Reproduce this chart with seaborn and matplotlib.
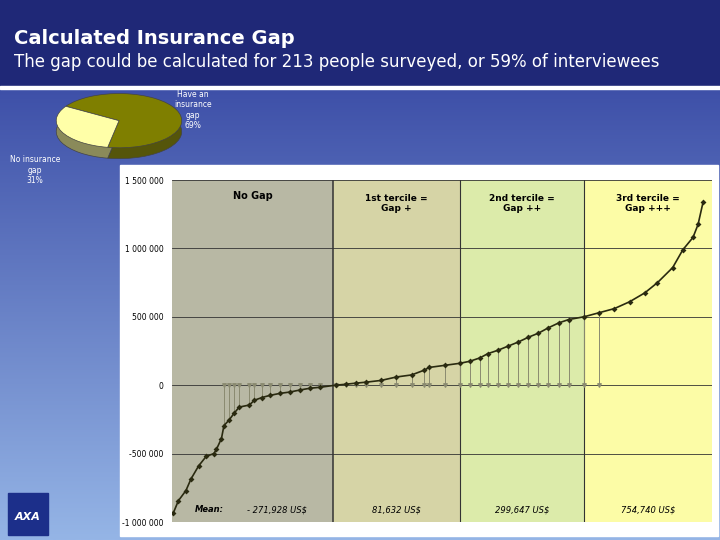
import numpy as np
import matplotlib
matplotlib.use("Agg")
import matplotlib.pyplot as plt
import seaborn as sns
from matplotlib.patches import Rectangle

# sorted calculated gap per person (rank 1..213)
rank = [1, 3, 6, 8, 11, 14, 17, 18, 20, 21, 23, 25, 27, 31, 33, 36, 39, 43, 47, 51,
        55, 59, 65, 69, 73, 77, 83, 89, 95, 100, 102, 108, 114, 118, 122, 125, 129, 133,
        137, 141, 145, 149, 153, 157, 163, 169, 175, 181, 187, 192, 198, 202, 206, 208, 210]
gap = [-935e3, -845e3, -770e3, -685e3, -590e3, -520e3, -500e3, -470e3, -390e3, -295e3,
       -255e3, -205e3, -160e3, -145e3, -110e3, -90e3, -75e3, -60e3, -50e3, -35e3,
       -22e3, -15e3, 0, 7e3, 15e3, 22e3, 35e3, 60e3, 75e3, 110e3, 130e3, 145e3, 160e3,
       175e3, 200e3, 230e3, 255e3, 285e3, 315e3, 350e3, 380e3, 420e3, 455e3, 480e3,
       500e3, 530e3, 560e3, 610e3, 675e3, 750e3, 860e3, 990e3, 1080e3, 1175e3, 1340e3]

group_edges = [0.5, 64.2, 114, 163, 213.5]
group_names = ["No Gap", "1st tercile =\nGap +", "2nd tercile =\nGap ++", "3rd tercile =\nGap +++"]
group_colors = ["#b8b8a4", "#d6d4a6", "#dcebaa", "#fcfca6"]
group_means = ["- 271,928 US$", "81,632 US$", "299,647 US$", "754,740 US$"]

pie_labels = ["Have an\ninsurance\ngap\n69%", "No insurance\ngap\n31%"]
pie_values = [69, 31]

yticks = [-1000000, -500000, 0, 500000, 1000000, 1500000]

W, H = 720, 540
fig = plt.figure(figsize=(7.2, 5.4), dpi=100)

def fx(px): return px / W
def fy(py): return 1 - py / H

# slide background gradient
bg = fig.add_axes([0, 0, 1, 1], zorder=-10)
grad = np.linspace(0, 1, 256).reshape(-1, 1)
cmap = matplotlib.colors.LinearSegmentedColormap.from_list("bg", ["#2d3c9c", "#95b5e6"])
bg.imshow(grad, aspect="auto", cmap=cmap, extent=[0, 1, 0, 1], origin="upper")
bg.axis("off")
fig.patches.append(Rectangle((0, fy(85)), 1, 85 / H, transform=fig.transFigure,
                             color="#1f2877", zorder=-5))
fig.patches.append(Rectangle((0, fy(89)), 1, 3 / H, transform=fig.transFigure,
                             color="white", zorder=-5))
fig.text(fx(14), fy(38), "Calculated Insurance Gap", color="white", fontsize=14,
         fontweight="bold", va="center")
fig.text(fx(14), fy(62), "The gap could be calculated for 213 people surveyed, or 59% of interviewees",
         color="white", fontsize=12, va="center")

# white chart panel
fig.patches.append(Rectangle((fx(120), fy(536)), 598 / W, 371 / H, transform=fig.transFigure,
                             color="white", zorder=-4))

# 3D-ish pie
for shift, cols, z in [(-0.4, ["#55550a", "#8a8a5a"], 1), (0, ["#7f7f00", "#ffffa8"], 2)]:
    pax = fig.add_axes([fx(55), fy(160), 128 / W, 67 / H], zorder=z)
    pax.pie(pie_values, colors=cols, startangle=148, counterclock=False,
            center=(0, shift), wedgeprops=dict(linewidth=0.5, edgecolor="#444"))
    pax.set_xlim(-1.02, 1.02)
    pax.set_ylim(-1.45, 1.02)
    pax.set_aspect("auto")
    pax.axis("off")
fig.text(fx(193), fy(110), pie_labels[0], color="white", fontsize=5.5, ha="center", va="center")
fig.text(fx(35), fy(170), pie_labels[1], color="white", fontsize=5.5, ha="center", va="center")

# main chart
ax = fig.add_axes([fx(172), fy(522), 540 / W, 342 / H])
for i in range(4):
    ax.axvspan(group_edges[i], group_edges[i + 1], color=group_colors[i], lw=0)
    mid = (group_edges[i] + group_edges[i + 1]) / 2
    ax.text(mid, 1.33e6 if i else 1.38e6, group_names[i], ha="center", va="center",
            fontsize=6.5 if i else 7, fontweight="bold")
    ax.text(mid if i else 42, -0.91e6, group_means[i], ha="center", va="center",
            fontsize=6, style="italic")
ax.text(9.5, -0.91e6, "Mean:", fontsize=6, style="italic", fontweight="bold", va="center")
for e in group_edges[1:-1]:
    ax.axvline(e, color="#333333", lw=0.8 if e != group_edges[1] else 1.1)
for t in yticks:
    ax.axhline(t, color="#333333", lw=0.6)

# arrows from zero to each gap
r = np.array(rank)
g = np.array(gap)
sel = (r >= 21) & (r <= 173)
ax.vlines(r[sel], 0, g[sel], color="#8a8a70", lw=0.7)
ax.scatter(r[sel], np.zeros(sel.sum()), marker="v", s=6, color="#8a8a70", zorder=3)

sns.lineplot(x=rank, y=gap, ax=ax, color="#2a2a10", lw=1.2, marker="D",
             markersize=3, markeredgewidth=0, zorder=4)

ax.set_xlim(0.5, 213.5)
ax.set_ylim(-1e6, 1.5e6)
ax.set_yticks(yticks)
ax.set_yticklabels([f"{t:,}".replace(",", " ") for t in yticks], fontsize=5.5)
ax.set_xticks([])
ax.tick_params(axis="y", length=0, pad=6)
for s in ax.spines.values():
    s.set_visible(False)

# AXA logo
fig.patches.append(Rectangle((fx(8), fy(535)), 40 / W, 42 / H, transform=fig.transFigure,
                             color="#1c2f8a", zorder=5))
fig.text(fx(28), fy(517), "AXA", color="white", fontsize=8, fontweight="bold",
         style="italic", ha="center", va="center", zorder=6)

fig.savefig("out.png", dpi=100)
